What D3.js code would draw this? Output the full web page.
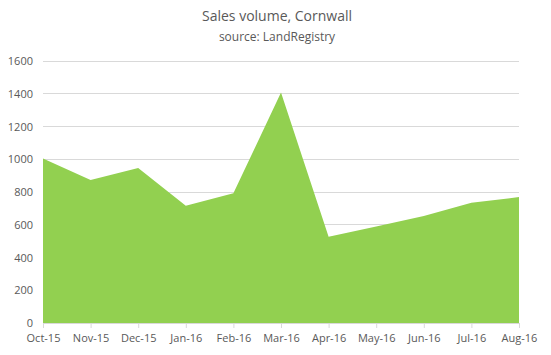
<!DOCTYPE html>
<html><head><meta charset="utf-8">
<script src="https://cdn.jsdelivr.net/npm/d3@7"></script>
<style>body{margin:0;background:#fff}svg{display:block}text{font-family:"Open Sans","Liberation Sans",sans-serif}</style>
</head><body><svg id="c" width="551" height="355"></svg>
<script>
const categories = ["Oct-15","Nov-15","Dec-15","Jan-16","Feb-16","Mar-16","Apr-16","May-16","Jun-16","Jul-16","Aug-16"];
const salesVolume = [1005, 873, 946, 716, 792, 1408, 527, 590, 654, 734, 769];
const yTicks = [0, 200, 400, 600, 800, 1000, 1200, 1400, 1600];
const titleText = "Sales volume, Cornwall";
const subtitleText = "source: LandRegistry";

(function () {
const svg = d3.select("#c");
const mLeft = 43, mRight = 519, mTop = 61, mBottom = 323;
const x = d3.scalePoint().domain(categories).range([mLeft, mRight]);
const y = d3.scaleLinear().domain([0, 1600]).range([mBottom, mTop]);

// gridlines
svg.append("g").selectAll("line").data(yTicks.filter(d => d > 0)).join("line")
  .attr("x1", mLeft).attr("x2", mRight)
  .attr("y1", d => y(d)).attr("y2", d => y(d))
  .attr("stroke", "#d9d9d9").attr("stroke-width", 1).attr("shape-rendering", "crispEdges");

// area
const area = d3.area().x((d, i) => x(categories[i])).y0(y(0)).y1(d => y(d));
svg.append("path").datum(salesVolume).attr("d", area).attr("fill", "#92d050");

// x axis
const xAxis = svg.append("g").attr("transform", `translate(0,${mBottom})`)
  .call(d3.axisBottom(x).tickSizeInner(5).tickSizeOuter(0).tickPadding(6));
xAxis.select(".domain").attr("stroke", "#d9d9d9");
xAxis.selectAll(".tick line").attr("stroke", "#d9d9d9");
xAxis.selectAll("text").attr("fill", "#595959").style("font-size", "11px");

// y axis labels
const yAxis = svg.append("g").attr("transform", `translate(${mLeft},0)`)
  .call(d3.axisLeft(y).tickValues(yTicks).tickFormat(d3.format("d")).tickSize(0).tickPadding(10));
yAxis.select(".domain").remove();
yAxis.selectAll("text").attr("fill", "#595959").style("font-size", "11px");

// titles
svg.append("text").attr("x", 277).attr("y", 21).attr("text-anchor", "middle")
  .attr("fill", "#595959").style("font-size", "14px").text(titleText);
svg.append("text").attr("x", 277).attr("y", 41).attr("text-anchor", "middle")
  .attr("fill", "#595959").style("font-size", "12px").text(subtitleText);
})();
</script></body></html>
